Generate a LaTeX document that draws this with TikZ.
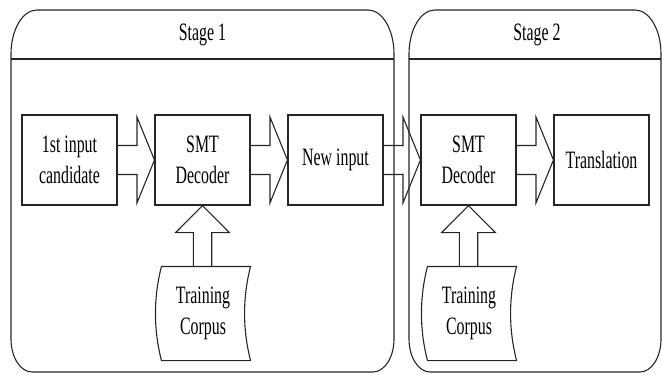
\documentclass[tikz,border=0pt]{standalone}
\usepackage{fontspec}
\setmainfont[FakeStretch=0.635]{Liberation Serif}
\usetikzlibrary{calc}

\tikzset{
  box/.style={draw, minimum width=47.5pt, minimum height=45pt, inner sep=0pt, align=center},
  corpus/.style={minimum width=44pt, minimum height=46.5pt, inner sep=0pt, align=center},
  stagelabel/.style={inner sep=0pt},
  blockarrow/.style={draw},
}

% block arrow between two boxes side by side
\newcommand{\harrow}[2]{%
  \draw[blockarrow] ($(#1.east)+(0,-14.5)$) -- ($(#2.west)+(-17.5,-14.5)$)
    -- ($(#2.west)+(-17.5,-43)$) -- (#2.west) -- ($(#2.west)+(-17.5,43)$)
    -- ($(#2.west)+(-17.5,14.5)$) -- ($(#1.east)+(0,14.5)$);}
% block arrow going up from a corpus to a decoder
\newcommand{\varrow}[2]{%
  \draw[blockarrow] ($(#2.south |- #1.north)+(-9.2,0)$) -- ($(#2.south)+(-9.2,27)$)
    -- ($(#2.south)+(-26.8,27)$) -- (#2.south) -- ($(#2.south)+(26.8,27)$)
    -- ($(#2.south)+(9.2,27)$) -- ($(#2.south |- #1.north)+(9.2,0)$);}
% outline of a corpus (sides bent to the left), text sits a little left of middle
\newcommand{\corpusshape}[1]{%
  \draw ($(#1.north west)+(3,0)$) -- ($(#1.north east)+(3,0)$)
    .. controls ($(#1.north east)+(-5,31)$) and ($(#1.south east)+(-5,-31)$) .. ($(#1.south east)+(3,0)$)
    -- ($(#1.south west)+(3,0)$)
    .. controls ($(#1.south west)+(-5,-31)$) and ($(#1.north west)+(-5,31)$) .. cycle;}
% frame of a stage
\newcommand{\stageframe}[4]{%
  \draw (#1,#2+44) .. controls (#1,#2+19.7) and (#1+11.6,#2) .. (#1+26,#2)
    -- (#3-26,#2) .. controls (#3-11.6,#2) and (#3,#2+19.7) .. (#3,#2+44)
    -- (#3,#4-33) .. controls (#3,#4-14.8) and (#3-9.4,#4) .. (#3-21,#4)
    -- (#1+21,#4) .. controls (#1+9.4,#4) and (#1,#4-14.8) .. (#1,#4-33) -- cycle;}

\begin{document}
\begin{tikzpicture}[x=0.5pt,y=-0.5pt,line width=0.55pt,draw=black!85,
  font=\fontsize{12.5}{15.5}\selectfont]
\useasboundingbox (0,0) rectangle (662,374);
% stages
\stageframe{11}{10}{394}{372}
\draw (11,59) -- (394,59);
\node[stagelabel] (stage1) at (202.5,35) {Stage 1};
\stageframe{409}{10}{661}{372}
\draw (409,59) -- (661,59);
\node[stagelabel] (stage2) at (537,35) {Stage 2};
% boxes
\node[box] (input) at (69.5,160) {1st input\\candidate};
\node[box] (dec1) at (202.5,160) {SMT\\Decoder};
\node[box] (newin) at (335.5,160) {New input};
\node[box] (dec2) at (468.5,160) {SMT\\Decoder};
\node[box] (trans) at (601.5,160) {Translation};
\node[corpus] (corp1) at (203,313.5) {Training\\Corpus};
\node[corpus] (corp2) at (469,313.5) {Training\\Corpus};
\corpusshape{corp1}
\corpusshape{corp2}
% arrows
\harrow{input}{dec1}
\harrow{dec1}{newin}
\harrow{newin}{dec2}
\harrow{dec2}{trans}
\varrow{corp1}{dec1}
\varrow{corp2}{dec2}
\end{tikzpicture}
\end{document}
